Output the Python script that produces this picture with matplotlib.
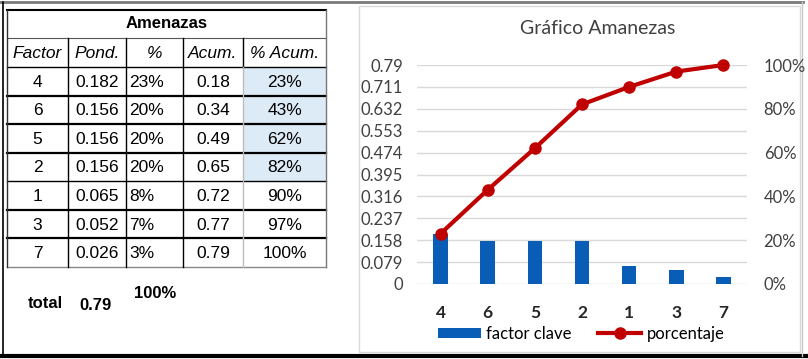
import matplotlib.pyplot as plt
import numpy as np
from matplotlib.lines import Line2D
from matplotlib.patches import Patch, Rectangle

# data
factores = ['4', '6', '5', '2', '1', '3', '7']
pond = [0.182, 0.156, 0.156, 0.156, 0.065, 0.052, 0.026]
pct = [23, 20, 20, 20, 8, 7, 3]
acum = [0.18, 0.34, 0.49, 0.65, 0.72, 0.77, 0.79]
pct_acum = [23, 43, 62, 82, 90, 97, 100]
total = 0.79
y_ticks = [0, 0.079, 0.158, 0.237, 0.316, 0.395, 0.474, 0.553, 0.632, 0.711, 0.79]
y_labels = ['0', '0.079', '0.158', '0.237', '0.316', '0.395', '0.474', '0.553', '0.632', '0.711', '0.79']
headers = ['Factor', 'Pond.', '%', 'Acum.', '% Acum.']

W, H = 808, 359
fig = plt.figure(figsize=(W / 100, H / 100), dpi=100)

# pixel canvas for frame and table
bg = fig.add_axes([0, 0, 1, 1])
bg.set_xlim(0, W)
bg.set_ylim(H, 0)
bg.axis('off')

# outer frame
bg.plot([0, 803], [2, 2], color='#7a7a7a', lw=2)
bg.plot([3, 3], [2, 356], color='black', lw=1.2)
bg.plot([0, W], [356, 356], color='black', lw=3)
bg.plot([802, 802], [2, 356], color='#c8c8c8', lw=1)

# ---- table ----
tfont = 'Liberation Sans'
cols = [7, 68, 126, 183, 243, 326]
rows = np.linspace(67, 267, 8)

# light blue fill on first four % Acum. cells
bg.add_patch(Rectangle((cols[4], rows[0]), cols[5] - cols[4], rows[4] - rows[0],
                       facecolor='#ddebf7', edgecolor='none'))

bg.plot([cols[0], cols[5]], [10, 10], color='black', lw=1.5)
bg.plot([cols[0], cols[5]], [38, 38], color='#555555', lw=0.8)
bg.plot([cols[0], cols[5]], [rows[0], rows[0]], color='black', lw=1)
sep_w = [1.6, 1.6, 1.6, 1.0, 1.6, 1.6]
for r, lw in zip(rows[1:-1], sep_w):
    bg.plot([cols[0], cols[5]], [r, r], color='black', lw=lw)
bg.plot([cols[0], cols[5]], [rows[-1], rows[-1]], color='#888888', lw=1)

bg.plot([cols[0], cols[0]], [10, rows[-1]], color='#333333', lw=1)
bg.plot([cols[5], cols[5]], [10, rows[-1]], color='#777777', lw=1)
for c in cols[1:4]:
    bg.plot([c, c], [38, rows[-1]], color='black', lw=1)
bg.plot([cols[4], cols[4]], [38, rows[0]], color='black', lw=1)
bg.plot([cols[4], cols[4]], [rows[0], rows[-1]], color='#bdbdbd', lw=1)

bg.text((cols[0] + cols[5]) / 2, 24, 'Amenazas', family=tfont, fontsize=12,
        fontweight='bold', ha='center', va='center')
for i, h in enumerate(headers):
    bg.text((cols[i] + cols[i + 1]) / 2, 53, h, family=tfont, fontsize=12.5,
            style='italic', ha='center', va='center')

for i in range(len(factores)):
    yc = (rows[i] + rows[i + 1]) / 2 + 1
    bg.text((cols[0] + cols[1]) / 2, yc, factores[i], family=tfont, fontsize=12.5,
            ha='center', va='center')
    bg.text((cols[1] + cols[2]) / 2, yc, '%.3f' % pond[i], family=tfont, fontsize=12.5,
            ha='center', va='center')
    bg.text(cols[2] + 3, yc, '%d%%' % pct[i], family=tfont, fontsize=12.5,
            ha='left', va='center')
    bg.text((cols[3] + cols[4]) / 2, yc, '%.2f' % acum[i], family=tfont, fontsize=12.5,
            ha='center', va='center')
    bg.text((cols[4] + cols[5]) / 2, yc, '%d%%' % pct_acum[i], family=tfont, fontsize=12.5,
            ha='center', va='center')

bg.text(45, 303, 'total', family=tfont, fontsize=12, fontweight='bold', ha='center', va='center')
bg.text(96, 305, '%.2f' % total, family=tfont, fontsize=12, fontweight='bold', ha='center', va='center')
bg.text(155, 293, '100%', family=tfont, fontsize=12, fontweight='bold', ha='center', va='center')

# ---- chart ----
bg.add_patch(Rectangle((359, 6), 441, 346, facecolor='white', edgecolor='#d9d9d9', lw=1))
cfont = 'Lato'
bg.text(598, 28, 'Gráfico Amanezas', family=cfont, fontsize=14, color='#404040',
        ha='center', va='center')

x0, x1, ytop, ybot = 417, 747, 65, 284
ax = fig.add_axes([x0 / W, (H - ybot) / H, (x1 - x0) / W, (ybot - ytop) / H])
x = np.arange(len(factores))
ax.bar(x, pond, width=0.31, color='#0a5db7', zorder=2)
ax.set_xlim(-0.5, len(factores) - 0.5)
ax.set_ylim(0, 0.79)
ax.set_yticks(y_ticks)
ax.set_yticklabels(y_labels, family=cfont, fontsize=12, color='#404040')
ax.set_xticks(x)
ax.set_xticklabels(factores, family=cfont, fontsize=12.5, fontweight='bold', color='#262626')
ax.grid(axis='y', color='#d9d9d9', lw=1, zorder=0)
for s in ax.spines.values():
    s.set_visible(False)

ax2 = ax.twinx()
ax2.plot(x, pct_acum, color='#c00000', lw=3, marker='o', ms=8, zorder=3, clip_on=False)
ax2.set_ylim(0, 100)
ax2.set_yticks([0, 20, 40, 60, 80, 100])
ax2.set_yticklabels(['%d%%' % v for v in [0, 20, 40, 60, 80, 100]], family=cfont,
                    fontsize=12, color='#404040')
for s in ax2.spines.values():
    s.set_visible(False)
ax2.tick_params(axis='y', length=0, pad=12)
ax.tick_params(axis='y', length=0, pad=10)
ax.tick_params(axis='x', length=0, pad=15)

handles = [Patch(facecolor='#0a5db7'),
           Line2D([], [], color='#c00000', lw=3, marker='o', ms=8)]
fig.legend(handles, ['factor clave', 'porcentaje'], loc='center',
           bbox_to_anchor=(581 / W, (H - 334) / H), ncol=2, frameon=False,
           prop={'family': cfont, 'size': 12}, handlelength=2.6, handleheight=0.6,
           columnspacing=1.6, handletextpad=0.3)

fig.savefig('out.png', dpi=100, facecolor='white')
